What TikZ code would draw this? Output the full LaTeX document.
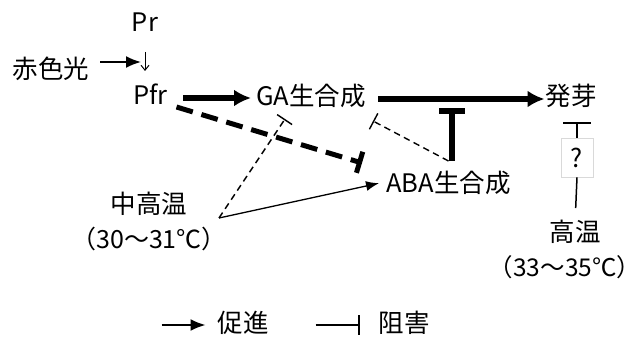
\documentclass[tikz,border=0pt]{standalone}
\usepackage{fontspec}
\setmainfont{Noto Sans CJK JP}
\usetikzlibrary{arrows.meta}
\begin{document}
\begin{tikzpicture}[x=1pt,y=-1pt,
  lbl/.style={inner sep=0pt, outer sep=0pt, anchor=base, text height=17pt, text depth=3pt,
    font=\fontsize{25.5}{25.5}\selectfont},
  paren/.style={lbl, font=\fontsize{25}{25}\selectfont},
  thickarr/.style={line width=5.5pt, -{Latex[length=17pt,width=17pt]}},
  thinarr/.style={line width=1.8pt, -{Latex[length=15pt,width=12pt]}},
  slimarr/.style={line width=1.3pt, -{Latex[length=13pt,width=10pt]}},
  thickbar/.style={line width=5.5pt, -{Bar[width=26pt]}},
  dashbar/.style={line width=5pt, dash pattern=on 17pt off 9pt, -{Bar[width=22pt]}},
  thindashbar/.style={line width=1.4pt, dash pattern=on 6.5pt off 4.5pt, -{Bar[width=18pt]}},
  slimbar/.style={line width=1.5pt, -{Bar[width=28pt]}},
  legbar/.style={line width=1.8pt, -{Bar[width=20pt]}}
]
\useasboundingbox (0,0) rectangle (643,337);
\fill[white] (0,0) rectangle (643,337);

% nodes
\node[lbl, minimum width=24pt] (pr) at (145,32) {Pr};
\node[lbl, minimum width=35pt] (pfr) at (150.5,105) {Pfr};
\node[lbl, minimum width=78pt] (red) at (51,78) {赤色光};
\node[lbl, minimum width=118pt] (ga) at (311,106) {GA生合成};
\node[lbl, minimum width=48pt] (hatsu) at (571,106) {発芽};
\node[lbl, minimum width=137pt] (aba) at (448.5,192) {ABA生合成};
\node[lbl, minimum width=78pt] (mid) at (149,213) {中高温};
\node[paren] (midt) at (149,248) {（30～31℃）};
\node[lbl, minimum width=54pt] (hi) at (575,241) {高温};
\node[paren, font=\fontsize{24.5}{24.5}\selectfont] (hit) at (565,276) {（33～35℃）};
\node[draw=gray!30, line width=0.6pt, minimum width=32pt, minimum height=39pt, inner sep=0pt,
  font=\fontsize{25.5}{25.5}\selectfont] (q) at (577,157.5) {?};
\node[lbl, minimum width=50pt] (prom) at (243,332) {促進};
\node[lbl, minimum width=48pt] (inh) at (404,332) {阻害};

\coordinate (jn) at (141,62);
\coordinate (mj) at ([shift={(31pt,-12pt)}]mid.east);

% connectors
\draw[thinarr] ([shift={(10pt,9pt)}]red.east) -- (jn);
\draw[line width=1pt, -{Straight Barb[length=5pt,width=8pt]}, shorten <=17pt, shorten >=17pt]
  (pr.south) -- (pr.south |- pfr.north);
\draw[thickarr, shorten <=15pt, shorten >=1pt] (pfr.east) -- (pfr.east -| ga.west);
\draw[thickarr, shorten <=8pt, shorten >=1pt] (ga.east) -- (ga.east -| hatsu.west);
\draw[thickbar] ([shift={(3.5pt,14pt)}]aba.north) -- ([shift={(3.5pt,67pt)}]aba.north);
\draw[thindashbar] ([shift={(0pt,14pt)}]aba.north) -- ([shift={(3pt,-12pt)}]ga.south east);
\draw[dashbar] ([shift={(8.5pt,1pt)}]pfr.south east) -- ([shift={(-18pt,22pt)}]aba.west);
\draw[thindashbar] (mj) -- ([shift={(-26pt,-10pt)}]ga.south);
\draw[slimarr, shorten >=1pt] (mj) -- ([shift={(0pt,2pt)}]aba.west);
\draw[line width=1.5pt, shorten <=16pt] (hi.north) -- (q.south);
\draw[slimbar, shorten >=13pt] (q.north) -- (q.north |- hatsu.south);

% legend
\draw[thinarr] ([xshift=-56pt]prom.west) -- ([xshift=-12pt]prom.west);
\draw[legbar] ([xshift=-63pt]inh.west) -- ([xshift=-19pt]inh.west);
\end{tikzpicture}
\end{document}
